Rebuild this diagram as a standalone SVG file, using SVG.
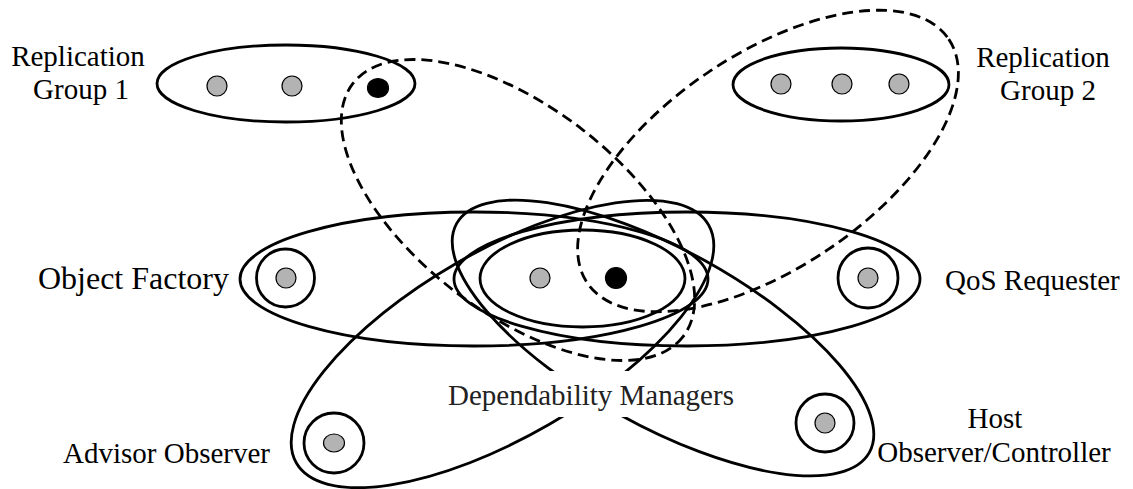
<svg xmlns="http://www.w3.org/2000/svg" width="1133" height="489" viewBox="0 0 1133 489">
<style>
.ol{fill:none;stroke:#000;stroke-width:2.8}
.ds{fill:none;stroke:#000;stroke-width:2.8;stroke-dasharray:11 6}
.g{fill:#b3b3b3;stroke:#000;stroke-width:1.2}
.b{fill:#000;stroke:#000;stroke-width:1.2}
.ring{fill:#fff;stroke:#000;stroke-width:2.8}
text{font-family:"Liberation Serif","Times New Roman",serif;font-size:29px;fill:#000}
</style>
<rect width="1133" height="489" fill="#fff"/>
<g id="connectors">
  <ellipse class="ol" cx="474" cy="279" rx="234" ry="67"/>
  <ellipse class="ol" cx="687" cy="279" rx="233" ry="67"/>
  <ellipse class="ol" cx="502.5" cy="344" rx="238" ry="93" transform="rotate(-30 502.5 344)"/>
  <ellipse class="ol" cx="663" cy="338" rx="236" ry="88" transform="rotate(29 663 338)"/>
  <ellipse class="ds" cx="518" cy="210" rx="208" ry="103" transform="rotate(37.4 518 210)"/>
  <ellipse class="ds" cx="768" cy="161" rx="218" ry="107" transform="rotate(-34 768 161)"/>
</g>
<g id="replication-group-1">
  <ellipse class="ol" cx="286" cy="83.5" rx="129" ry="38.5"/>
  <circle class="g" cx="217" cy="86" r="10"/>
  <circle class="g" cx="292" cy="86" r="10"/>
  <ellipse class="b" cx="378" cy="88" rx="10.5" ry="9.5"/>
  <text x="78" y="66" text-anchor="middle">Replication</text>
  <text x="81" y="99" text-anchor="middle">Group 1</text>
</g>
<g id="replication-group-2">
  <ellipse class="ol" cx="841" cy="84.5" rx="108" ry="36.5"/>
  <circle class="g" cx="781" cy="84" r="10"/>
  <circle class="g" cx="842" cy="84" r="10"/>
  <circle class="g" cx="899" cy="84" r="10"/>
  <text x="1043" y="67" text-anchor="middle">Replication</text>
  <text x="1048" y="100" text-anchor="middle">Group 2</text>
</g>
<g id="dependability-managers">
  <ellipse class="ol" cx="582.5" cy="278.5" rx="102.5" ry="48.5"/>
  <circle class="g" cx="540" cy="278" r="10"/>
  <circle class="b" cx="616" cy="278" r="10.5"/>
  <rect x="445" y="371" width="295" height="46" fill="#fff"/>
  <text x="591" y="405" text-anchor="middle" style="fill:#222">Dependability Managers</text>
</g>
<g id="object-factory">
  <circle class="ring" cx="285.5" cy="278" r="29"/>
  <circle class="g" cx="286" cy="278" r="10"/>
  <text x="229" y="289" text-anchor="end" style="font-size:32px">Object Factory</text>
</g>
<g id="qos-requester">
  <circle class="ring" cx="868" cy="278" r="30"/>
  <circle class="g" cx="868" cy="278" r="10"/>
  <text x="945" y="290">QoS Requester</text>
</g>
<g id="advisor-observer">
  <circle class="ring" cx="334" cy="443" r="30"/>
  <ellipse class="g" cx="334" cy="443" rx="10.5" ry="9"/>
  <text x="63" y="463">Advisor Observer</text>
</g>
<g id="host-observer-controller">
  <circle class="ring" cx="825" cy="423" r="29"/>
  <circle class="g" cx="825" cy="423" r="10"/>
  <text x="995" y="428" text-anchor="middle">Host</text>
  <text x="994" y="462" text-anchor="middle">Observer/Controller</text>
</g>
</svg>
